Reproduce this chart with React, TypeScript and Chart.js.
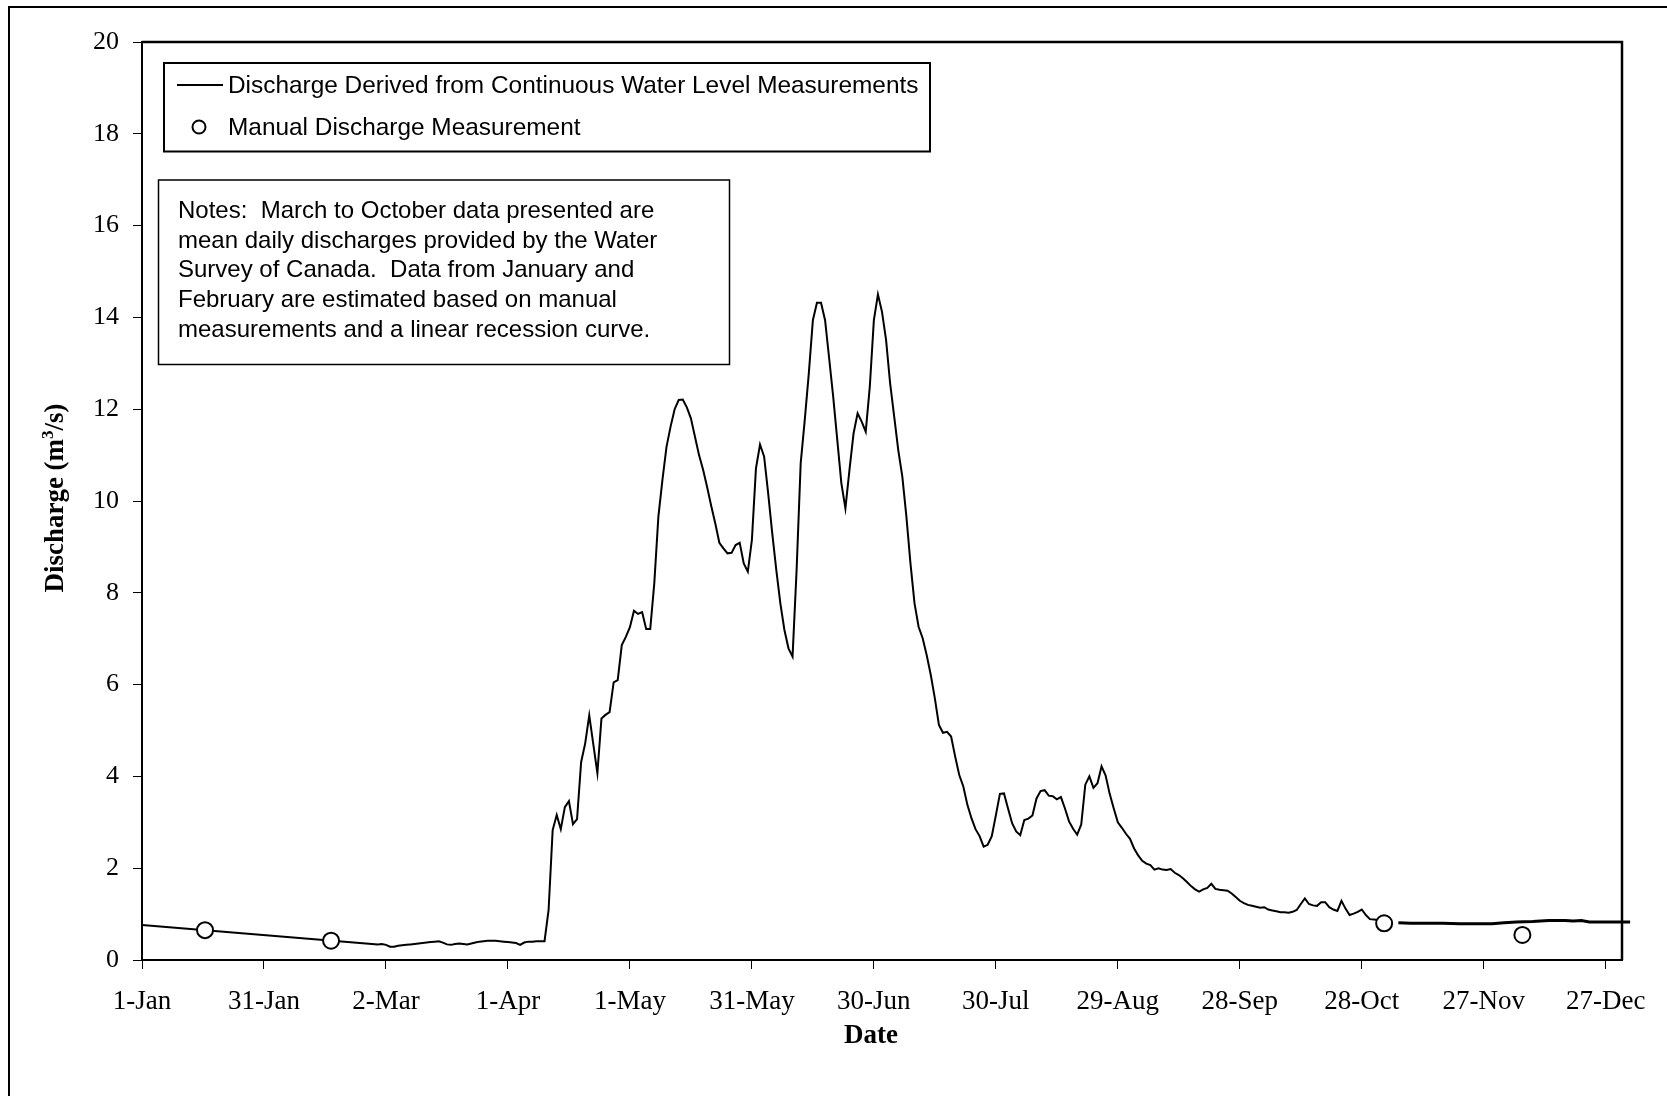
import React, { useEffect, useRef } from 'react';
import { Chart, registerables } from 'chart.js';

Chart.register(...registerables);

const W = 1667;
const H = 1096;

// x axis: day of year (0 = 1-Jan)
const xTickDays = [0, 30, 60, 90, 120, 150, 180, 210, 240, 270, 300, 330, 360];
const xTickLabels = ['1-Jan', '31-Jan', '2-Mar', '1-Apr', '1-May', '31-May', '30-Jun', '30-Jul', '29-Aug', '28-Sep', '28-Oct', '27-Nov', '27-Dec'];

// January-February: estimated linear recession
const recessionDays = [0, 58];
const recessionFlow = [0.76, 0.34];

// March-October mean daily discharges, starting at day 59 (1-Mar)
const dailyStartDay = 59;
const dailyFlow = [
  0.35, 0.33, 0.29, 0.29, 0.31, 0.32, 0.33, 0.34, 0.35, 0.36,
  0.37, 0.38, 0.39, 0.40, 0.41, 0.38, 0.34, 0.33, 0.35, 0.36,
  0.35, 0.34, 0.36, 0.38, 0.40, 0.41, 0.42, 0.42, 0.42, 0.41,
  0.40, 0.39, 0.38, 0.37, 0.33, 0.38, 0.40, 0.40, 0.41, 0.41,
  0.41, 1.09, 2.83, 3.16, 2.85, 3.33, 3.46, 2.96, 3.07, 4.31,
  4.72, 5.33, 4.70, 4.07, 5.26, 5.34, 5.40, 6.05, 6.10, 6.86,
  7.04, 7.25, 7.61, 7.54, 7.58, 7.21, 7.21, 8.21, 9.66, 10.46,
  11.18, 11.62, 12.00, 12.20, 12.21, 12.04, 11.80, 11.40, 11.00, 10.68,
  10.30, 9.89, 9.51, 9.09, 8.97, 8.86, 8.87, 9.04, 9.09, 8.64,
  8.46, 9.15, 10.71, 11.23, 10.97, 10.17, 9.30, 8.50, 7.77, 7.19,
  6.79, 6.61, 8.50, 10.82, 11.76, 12.78, 13.94, 14.32, 14.32, 13.94,
  13.11, 12.27, 11.33, 10.39, 9.84, 10.68, 11.47, 11.91, 11.73, 11.51,
  12.49, 13.94, 14.50, 14.12, 13.51, 12.56, 11.84, 11.11, 10.53, 9.66,
  8.64, 7.77, 7.26, 7.01, 6.64, 6.21, 5.70, 5.12, 4.95, 4.97,
  4.87, 4.43, 4.03, 3.78, 3.38, 3.09, 2.85, 2.70, 2.47, 2.51,
  2.70, 3.15, 3.62, 3.63, 3.30, 2.98, 2.80, 2.72, 3.05, 3.08,
  3.15, 3.52, 3.68, 3.70, 3.58, 3.57, 3.50, 3.55, 3.30, 3.02,
  2.86, 2.73, 2.95, 3.82, 4.00, 3.75, 3.85, 4.22, 4.02, 3.62,
  3.30, 3.00, 2.88, 2.75, 2.64, 2.43, 2.28, 2.16, 2.10, 2.07,
  1.97, 2.00, 1.97, 1.96, 1.98, 1.90, 1.85, 1.78, 1.70, 1.61,
  1.54, 1.49, 1.54, 1.57, 1.66, 1.55, 1.53, 1.52, 1.51, 1.45,
  1.37, 1.29, 1.24, 1.20, 1.18, 1.16, 1.14, 1.15, 1.10, 1.08,
  1.06, 1.04, 1.04, 1.03, 1.05, 1.09, 1.22, 1.34, 1.22, 1.19,
  1.18, 1.26, 1.26, 1.15, 1.10, 1.07, 1.29, 1.12, 0.98, 1.01,
  1.05, 1.10, 0.98, 0.89, 0.88, 0.87,
];

// November-December continuous record
const winterDays = [309, 312, 316, 320, 324, 328, 332, 335, 338, 342, 346, 350, 352, 354, 356, 360, 363, 366];
const winterFlow = [0.81, 0.80, 0.80, 0.80, 0.79, 0.79, 0.79, 0.81, 0.83, 0.84, 0.86, 0.86, 0.85, 0.86, 0.83, 0.83, 0.83, 0.83];

// Manual discharge measurements
const manualDays = [15.5, 46.5, 305.5, 339.5];
const manualFlow = [0.65, 0.42, 0.8, 0.545];

const legendLabels = [
  'Discharge Derived from Continuous Water Level Measurements',
  'Manual Discharge Measurement',
];

const noteLines = [
  'Notes:  March to October data presented are',
  'mean daily discharges provided by the Water',
  'Survey of Canada.  Data from January and',
  'February are estimated based on manual',
  'measurements and a linear recession curve.',
];

const SERIF = '"Liberation Serif", "Times New Roman", serif';
const SANS = '"Liberation Sans", Arial, sans-serif';

function buildMainData() {
  const pts: { x: number; y: number }[] = [];
  recessionDays.forEach((d, i) => pts.push({ x: d, y: recessionFlow[i] }));
  dailyFlow.forEach((v, i) => pts.push({ x: dailyStartDay + i, y: v }));
  return pts;
}

const overlayPlugin = {
  id: 'overlay',
  afterDraw(chart: any) {
    const { ctx, chartArea } = chart;
    ctx.save();

    // outer frame (left + top)
    ctx.strokeStyle = '#000';
    ctx.lineWidth = 2;
    ctx.beginPath();
    ctx.moveTo(9, H);
    ctx.lineTo(9, 7);
    ctx.lineTo(W, 7);
    ctx.stroke();

    // plot area top & right border
    ctx.lineWidth = 2.5;
    ctx.beginPath();
    ctx.moveTo(chartArea.left, chartArea.top);
    ctx.lineTo(chartArea.right, chartArea.top);
    ctx.lineTo(chartArea.right, chartArea.bottom);
    ctx.stroke();

    // legend box
    const lx = 164, ly = 63, lw = 766, lh = 88.5;
    ctx.fillStyle = '#fff';
    ctx.fillRect(lx, ly, lw, lh);
    ctx.lineWidth = 2;
    ctx.strokeStyle = '#000';
    ctx.strokeRect(lx, ly, lw, lh);
    ctx.beginPath();
    ctx.moveTo(177, 85);
    ctx.lineTo(223, 85);
    ctx.stroke();
    ctx.beginPath();
    ctx.arc(199, 127, 6.5, 0, Math.PI * 2);
    ctx.fillStyle = '#fff';
    ctx.fill();
    ctx.stroke();
    ctx.fillStyle = '#000';
    ctx.font = `24.4px ${SANS}`;
    ctx.textAlign = 'left';
    ctx.textBaseline = 'alphabetic';
    ctx.fillText(legendLabels[0], 228, 93);
    ctx.fillText(legendLabels[1], 228, 135);

    // notes box
    const nx = 158.5, ny = 180, nw = 571, nh = 184.5;
    ctx.fillStyle = '#fff';
    ctx.fillRect(nx, ny, nw, nh);
    ctx.lineWidth = 1.5;
    ctx.strokeRect(nx, ny, nw, nh);
    ctx.fillStyle = '#000';
    ctx.font = `24px ${SANS}`;
    noteLines.forEach((t, i) => ctx.fillText(t, 178, 218 + i * 29.7));

    // x axis title
    ctx.font = `bold 27px ${SERIF}`;
    ctx.textAlign = 'center';
    ctx.fillText('Date', 871, 1043);

    // y axis title with superscript
    ctx.save();
    ctx.translate(62.5, 498);
    ctx.rotate(-Math.PI / 2);
    const mainFont = `bold 27px ${SERIF}`;
    const supFont = `bold 17px ${SERIF}`;
    const parts = [
      { t: 'Discharge (m', f: mainFont, dy: 0 },
      { t: '3', f: supFont, dy: -10 },
      { t: '/s)', f: mainFont, dy: 0 },
    ];
    let total = 0;
    parts.forEach((p) => { ctx.font = p.f; total += ctx.measureText(p.t).width; });
    let x = -total / 2;
    ctx.textAlign = 'left';
    parts.forEach((p) => {
      ctx.font = p.f;
      ctx.fillText(p.t, x, p.dy);
      x += ctx.measureText(p.t).width;
    });
    ctx.restore();

    ctx.restore();
  },
};

export default function App() {
  const ref = useRef<HTMLCanvasElement | null>(null);

  useEffect(() => {
    if (!ref.current) return;
    const chart = new Chart(ref.current, {
      type: 'scatter',
      data: {
        datasets: [
          {
            type: 'scatter',
            label: legendLabels[1],
            data: manualDays.map((d, i) => ({ x: d, y: manualFlow[i] })),
            pointRadius: 8,
            pointHoverRadius: 8,
            backgroundColor: '#fff',
            borderColor: '#000',
            borderWidth: 2,
            order: 0,
          } as any,
          {
            type: 'line',
            label: legendLabels[0],
            data: buildMainData(),
            showLine: true,
            pointRadius: 0,
            borderColor: '#000',
            borderWidth: 2,
            tension: 0,
            clip: false,
            order: 1,
          } as any,
          {
            type: 'line',
            label: legendLabels[0] + ' (Nov-Dec)',
            data: winterDays.map((d, i) => ({ x: d, y: winterFlow[i] })),
            showLine: true,
            pointRadius: 0,
            borderColor: '#000',
            borderWidth: 3,
            tension: 0,
            clip: false,
            order: 2,
          } as any,
        ],
      },
      options: {
        responsive: false,
        animation: false,
        devicePixelRatio: 1,
        layout: { padding: { top: 42, right: 45, bottom: 0, left: 0 } },
        plugins: {
          legend: { display: false },
          tooltip: { enabled: false },
          title: { display: false },
        },
        scales: {
          x: {
            type: 'linear',
            min: 0,
            max: 364,
            afterBuildTicks: (scale: any) => {
              scale.ticks = xTickDays.map((v) => ({ value: v }));
            },
            afterFit: (scale: any) => {
              scale.height = 136;
            },
            grid: { display: true, drawOnChartArea: false, drawTicks: true, tickLength: 9, color: '#000', lineWidth: 1 },
            border: { display: true, color: '#000', width: 2 },
            ticks: {
              color: '#000',
              font: { family: SERIF, size: 27 },
              padding: 17,
              maxRotation: 0,
              autoSkip: false,
              callback: (value: any) => {
                const idx = xTickDays.indexOf(Number(value));
                return idx >= 0 ? xTickLabels[idx] : '';
              },
            },
          },
          y: {
            type: 'linear',
            min: 0,
            max: 20,
            afterFit: (scale: any) => {
              scale.width = 142;
            },
            grid: { display: true, drawOnChartArea: false, drawTicks: true, tickLength: 9, color: '#000', lineWidth: 1 },
            border: { display: true, color: '#000', width: 2 },
            ticks: {
              color: '#000',
              stepSize: 2,
              font: { family: SERIF, size: 26 },
              padding: 14,
            },
          },
        },
      } as any,
      plugins: [overlayPlugin],
    });
    return () => chart.destroy();
  }, []);

  return (
    <div style={{ position: 'absolute', left: 0, top: 0, width: W, height: H, overflow: 'hidden', background: '#fff' }}>
      <canvas ref={ref} width={W} height={H} style={{ display: 'block', width: W, height: H }} />
    </div>
  );
}
